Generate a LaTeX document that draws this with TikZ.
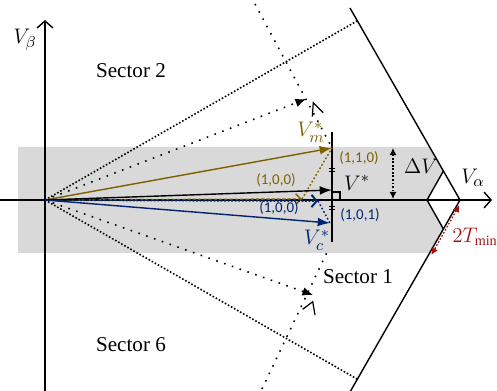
\documentclass[tikz,border=0pt]{standalone}
\usepackage{fontspec}
\setmainfont{Liberation Serif}
\newfontfamily\tuplefont{Carlito}
\usetikzlibrary{arrows.meta,calc,positioning}
\definecolor{goldvec}{RGB}{127,96,0}
\definecolor{bluevec}{RGB}{0,36,112}
\definecolor{redvec}{RGB}{160,20,20}
\definecolor{bandgray}{RGB}{217,217,217}

\begin{document}
\begin{tikzpicture}[x=0.02cm,y=-0.02cm,
  axis/.style={line width=0.8pt,-{Straight Barb[length=4pt,width=9pt]}},
  vec/.style={line width=0.8pt,-{Latex[length=7pt,width=5pt]}},
  sparse/.style={line width=0.9pt,dash pattern=on 0.9pt off 3.8pt},
  dense/.style={line width=0.9pt,dash pattern=on 0.9pt off 1.1pt},
  sector/.style={font=\fontsize{12}{14}\selectfont},
  tuple/.style={font=\tuplefont\fontsize{8.5}{10}\selectfont},
  mlab/.style={font=\fontsize{13}{15}\selectfont},
]
  \useasboundingbox (0,0) rectangle (497,391);
  % points
  \coordinate (o)   at (45,200);
  \coordinate (h1)  at (350,8);
  \coordinate (h0)  at (460,200);
  \coordinate (h6)  at (350,392);
  \coordinate (dtop) at (443.4,171);
  \coordinate (dmid) at (427,200);
  \coordinate (dbot) at (443.4,229);
  \coordinate (vm)  at (332,148);
  \coordinate (vs)  at (332,190);
  \coordinate (vc)  at (330,223);
  \coordinate (gm)  at (302,199);
  \coordinate (bm)  at (318,201);
  % shaded band
  \fill[bandgray] (18,147) -- (429.6,147) -- (dtop) -- (dmid) -- (dbot) -- (429.6,253) -- (18,253) -- cycle;
  % axes
  \draw[axis] (0,200) -- (492,200) coordinate (xa);
  \draw[axis] (45,391) -- (45,20) coordinate (ya);
  \node[mlab] (lab-va) at (473,178) {$V_\alpha$};
  \node[mlab] (lab-vb) at (25,40) {$V_\beta$};
  % hexagon
  \draw[line width=0.8pt] (h1) -- (h0) -- (h6);
  \draw[line width=0.8pt] (dtop) -- (dmid) -- (dbot);
  % sector borders
  \draw[dense] (o) -- (357,21);
  \draw[dense] (o) -- (357,379);
  \draw[sparse] (255,4) -- (331,146);
  \draw[sparse] (262,389) -- (329,248);
  \draw[sparse,-{Latex[length=6pt,width=5pt]}] (o) -- (306,99);
  \draw[sparse,-{Latex[length=6pt,width=5pt]}] (o) -- (313,295);
  \draw[line width=0.7pt] (312.3,116.7) -- (313.3,102.7) -- (323.3,112.7);
  \draw[line width=0.7pt] (302.7,309.3) -- (312.7,301.7) -- (315,315);
  \node[sector] (sec2) at (131,71) {Sector 2};
  \node[sector] (sec1) at (358,277) {Sector 1};
  \node[sector] (sec6) at (131,345) {Sector 6};
  % perpendicular line
  \draw[line width=0.8pt] (332,132) coordinate (ptop) -- (332,242) coordinate (pbot);
  \draw[line width=0.6pt] (329,190) ++(3,2) -- ++(8,0) -- ++(0,8);
  \foreach \yy in {170,208}{
    \draw[line width=0.6pt] (329,\yy-1.5) -- (335,\yy-1.5);
    \draw[line width=0.6pt] (329,\yy+1.5) -- (335,\yy+1.5);
  }
  % switching vectors
  \draw[goldvec,line width=0.8pt,dash pattern=on 2pt off 1pt,-{Straight Barb[length=3pt,width=6pt]}] (o) -- (gm);
  \draw[goldvec,line width=0.8pt,dash pattern=on 1pt off 1.2pt] (gm) -- (vm);
  \draw[bluevec,line width=1.1pt,dash pattern=on 1pt off 1pt,-{Straight Barb[length=3pt,width=7pt]}] (o) -- (bm);
  \draw[bluevec,line width=0.8pt,dash pattern=on 1pt off 1.2pt] (bm) -- (vc);
  % reference vectors
  \draw[vec,goldvec] (o) -- (vm);
  \draw[vec] (o) -- (vs);
  \draw[vec,bluevec] (o) -- (vc);
  \node[mlab,goldvec] (lab-vm) at (311,132) {$V_m^*$};
  \node[mlab] (lab-vs) at (357,183) {$V^*$};
  \node[mlab,bluevec] (lab-vc) at (317,240) {$V_c^*$};
  \node[tuple,goldvec] (t110) at (359,158) {(1,1,0)};
  \node[tuple,goldvec] (t100g) at (276,180) {(1,0,0)};
  \node[tuple,bluevec] (t100b) at (279,208) {(1,0,0)};
  \node[tuple,bluevec] (t101) at (360,215) {(1,0,1)};
  % delta V
  \coordinate (dv1) at (393,148);
  \coordinate (dv2) at (393,199);
  \draw[line width=0.7pt,dash pattern=on 1pt off 1pt,{Latex[length=4pt,width=4pt]}-{Latex[length=4pt,width=4pt]}] (dv1) -- (dv2);
  \node[mlab] (lab-dv) at (421,166) {$\Delta V$};
  % 2 Tmin
  \coordinate (tm1) at (459.4,205);
  \coordinate (tm2) at (431.3,255);
  \draw[redvec,line width=0.7pt,dash pattern=on 1pt off 1pt,{Latex[length=4pt,width=4pt]}-{Latex[length=4pt,width=4pt]}] (tm1) -- (tm2);
  \node[redvec,font=\fontsize{11.5}{13}\selectfont,inner sep=1pt] (lab-tm) at (475,237) {$2T_{\mathrm{min}}$};
\end{tikzpicture}
\end{document}
